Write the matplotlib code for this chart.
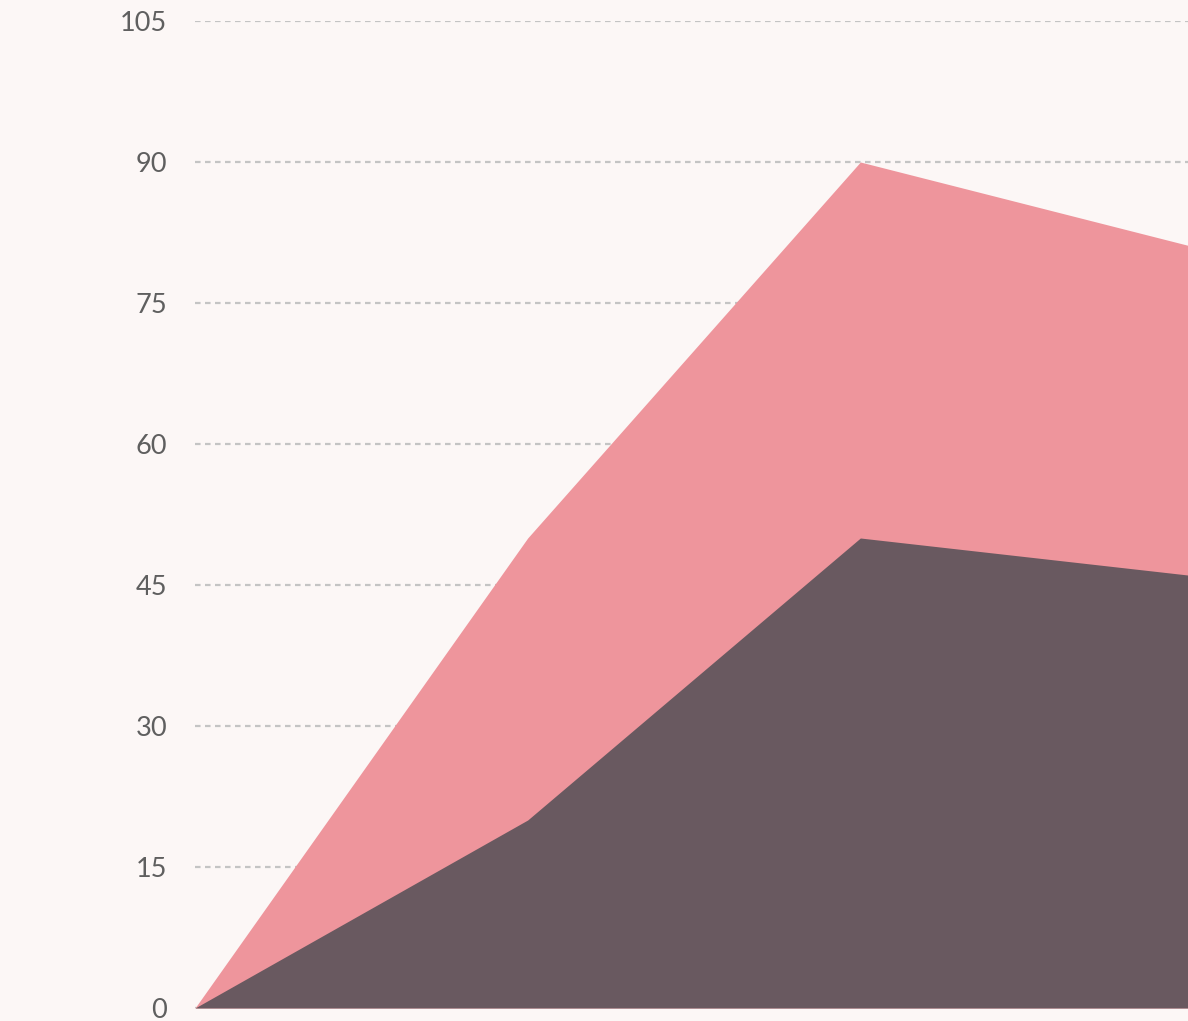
import matplotlib
matplotlib.use("Agg")
import matplotlib.pyplot as plt

categories = ["A", "B", "C", "D"]
series_total = [0, 50, 90, 81]
series_base = [0, 20, 50, 46]
yticks = [0, 15, 30, 45, 60, 75, 90, 105]

bg = "#fcf7f6"
pink = "#ee959c"
dark = "#695960"

fig = plt.figure(figsize=(11.88, 10.21), dpi=100, facecolor=bg)
ax = fig.add_axes([195/1188, 13/1021, 993/1188, 987/1021], facecolor=bg)

x = list(range(len(categories)))
ax.fill_between(x, series_total, 0, color=pink, linewidth=0, zorder=2)
ax.fill_between(x, series_base, 0, color=dark, linewidth=0, zorder=3)

ax.set_xlim(0, 993/332.67)
ax.set_ylim(0, 105)
ax.set_yticks(yticks)
ax.set_yticklabels([str(v) for v in yticks], fontsize=19.5, color="#5f5f5f", family="Lato")
ax.tick_params(axis="y", length=0, pad=20)
ax.set_xticks([])
for s in ax.spines.values():
    s.set_visible(False)
ax.yaxis.grid(True, color="#c4c4c4", linestyle=(0, (2.5, 2.0)), linewidth=1.6, zorder=1)
ax.set_axisbelow(True)
for lbl in ax.get_yticklabels():
    lbl.set_clip_on(False)

fig.savefig("out.png", dpi=100, facecolor=bg)
